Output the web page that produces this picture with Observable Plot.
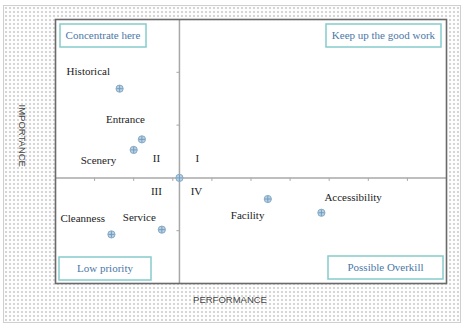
<!DOCTYPE html>
<html>
<head>
<meta charset="utf-8">
<script src="https://cdn.jsdelivr.net/npm/d3@7"></script>
<script src="https://cdn.jsdelivr.net/npm/@observablehq/plot@0.6"></script>
<style>
  html, body { margin: 0; padding: 0; background: white; }
  #wrap { position: relative; width: 468px; height: 328px; overflow: hidden; }
  #bg {
    position: absolute; left: 3px; top: 5px; width: 456px; height: 316px;
    border: 1px solid #cfcfcf;
    background-color: #fdfdfd;
    background-image: radial-gradient(circle, #d4d4d4 0.7px, transparent 0.9px);
    background-size: 4px 4px;
  }
  #chart { position: absolute; left: 0; top: 0; }
  #chart svg text { font-family: "Liberation Serif", "Times New Roman", serif; }
  #chart svg g[font-size="9.5"] text { font-family: "Liberation Sans", Arial, sans-serif; }
</style>
</head>
<body>
<div id="wrap"><div id="bg"></div><div id="chart"></div></div>
<script>
// ---- data ----
const attributes  = ["Historical", "Entrance", "Scenery", "Cleanness", "Service", "Facility", "Accessibility"];
const performance = [1.64, 2.21, 2.00, 1.43, 2.72, 5.43, 6.80];
const importance  = [1.69, 0.73, 0.53, -1.07, -0.98, -0.40, -0.66];
const meanPerformance = 3.17;
const meanImportance = 0;
const xTicks = [1, 2, 3, 4, 5, 6, 7, 8, 9];
const yTicks = [-1, 1, 2];
const quadrants = ["I", "II", "III", "IV"];
const quadrantNotes = ["Keep up the good work", "Concentrate here", "Low priority", "Possible Overkill"];
const xTitle = "PERFORMANCE";
const yTitle = "IMPORTANCE";

// ---- styles ----
const labelOffset = {
  Historical: [-53, -17], Entrance: [-36, -20], Scenery: [-53, 11],
  Cleanness: [-51, -16], Service: [-39, -12], Facility: [-37, 16], Accessibility: [3, -15]
};
const numeralOffset = { I: [18, -19], II: [-23, -19], III: [-23, 14], IV: [17, 14] };
const noteBox = {
  "Concentrate here":      {side: "left",  dx: 5,  top: true,  w: 86,  h: 23, off: 5},
  "Keep up the good work": {side: "right", dx: 5,  top: true,  w: 115, h: 23, off: 5},
  "Low priority":          {side: "left",  dx: 4,  top: false, w: 92,  h: 23, off: 3},
  "Possible Overkill":     {side: "right", dx: 3,  top: false, w: 115, h: 23, off: 4}
};
const serif = "Liberation Serif";
const sans = "Liberation Sans";
const axisGray = "#a8a8a8";

const table = attributes.map((a, i) => ({attribute: a, performance: performance[i], importance: importance[i]}));
const center = [{performance: meanPerformance, importance: meanImportance}];
const allPoints = table.concat(center);

const plusSymbol = {draw(ctx, size) { const r = Math.sqrt(size / Math.PI); ctx.moveTo(-r, 0); ctx.lineTo(r, 0); ctx.moveTo(0, -r); ctx.lineTo(0, r); }};
const downTick = {draw(ctx, size) { const r = Math.sqrt(size / Math.PI); ctx.moveTo(0, 0); ctx.lineTo(0, r); }};
const leftTick = {draw(ctx, size) { const r = Math.sqrt(size / Math.PI); ctx.moveTo(0, 0); ctx.lineTo(-r, 0); }};

function notesMark(index, scales, values, dims) {
  const g = d3.create("svg:g");
  const L = dims.marginLeft, T = dims.marginTop, R = dims.width - dims.marginRight, B = dims.height - dims.marginBottom;
  for (const note of quadrantNotes) {
    const s = noteBox[note];
    const x = s.side === "left" ? L + s.dx : R - s.dx - s.w;
    const y = s.top ? T + s.off : B - s.off - s.h;
    g.append("rect").attr("x", x).attr("y", y).attr("width", s.w).attr("height", s.h)
      .attr("fill", "white").attr("stroke", "#86cccc").attr("stroke-width", 1.5);
    g.append("text").attr("x", x + s.w / 2).attr("y", y + s.h / 2).attr("dy", "0.35em")
      .attr("text-anchor", "middle").attr("font-family", serif).attr("font-size", 11)
      .attr("fill", "#4a78a6").text(note);
  }
  return g.node();
}

const marks = [
  Plot.frame({fill: "white", stroke: null}),
  Plot.ruleX(center, {x: "performance", stroke: axisGray, strokeWidth: 1.5}),
  Plot.ruleY(center, {y: "importance", stroke: axisGray, strokeWidth: 1.5}),
  Plot.dot(xTicks, {x: d => d, y: () => meanImportance, symbol: downTick, r: 3, stroke: axisGray, fill: "none", strokeWidth: 1}),
  Plot.dot(yTicks, {x: () => meanPerformance, y: d => d, symbol: leftTick, r: 3, stroke: axisGray, fill: "none", strokeWidth: 1}),
  notesMark,
  Plot.dot(allPoints, {x: "performance", y: "importance", r: 3.6, fill: "#b9d1e4", stroke: "#86abc8", strokeWidth: 1}),
  Plot.dot(allPoints, {x: "performance", y: "importance", symbol: plusSymbol, r: 3.2, stroke: "#6f97b8", fill: "none", strokeWidth: 0.9}),
  ...attributes.map(a => Plot.text(table.filter(d => d.attribute === a), {
    x: "performance", y: "importance", text: "attribute", textAnchor: "start",
    dx: labelOffset[a][0], dy: labelOffset[a][1], fontFamily: serif, fontSize: 11, fill: "#222"
  })),
  ...quadrants.map(q => Plot.text([q], {
    x: () => meanPerformance, y: () => meanImportance, text: d => d,
    dx: numeralOffset[q][0], dy: numeralOffset[q][1], fontFamily: serif, fontSize: 11, fill: "#222"
  })),
  Plot.text([yTitle], {frameAnchor: "left", dx: -33, dy: -47, rotate: 90, fontFamily: sans, fontSize: 9.5, fill: "#444", text: d => d}),
  Plot.text([xTitle], {frameAnchor: "bottom", lineAnchor: "middle", dx: -21, dy: 16, fontFamily: sans, fontSize: 9.5, fill: "#444", text: d => d}),
  Plot.frame({stroke: "#6a6a6a", strokeWidth: 1.6, fill: "none"})
];

const chart = Plot.plot({
  width: 468, height: 328,
  marginLeft: 55, marginRight: 22, marginTop: 19, marginBottom: 45,
  style: {background: "transparent", overflow: "visible"},
  x: {domain: [0, 10], axis: null},
  y: {domain: [-2, 3], axis: null},
  marks
});
document.getElementById("chart").appendChild(chart);
</script>
</body>
</html>
